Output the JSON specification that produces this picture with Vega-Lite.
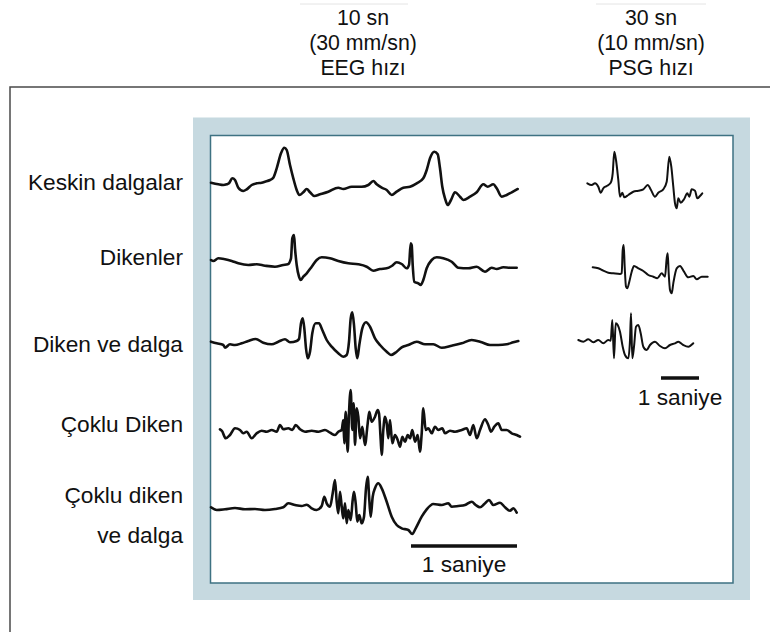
{
  "$schema": "https://vega.github.io/schema/vega-lite/v6.json",
  "width": 770,
  "height": 632,
  "autosize": {"type": "fit", "contains": "padding"},
  "padding": 0,
  "background": "white",
  "view": {"stroke": null},
  "config": {"font": "Liberation Sans", "text": {"font": "Liberation Sans"}},
  "datasets": {
    "traces": [
      {"s":"eeg1","x":211,"y":182.7},{"s":"eeg1","x":218.3,"y":184.3},{"s":"eeg1","x":223.3,"y":185},{"s":"eeg1","x":226.7,"y":184.3},{"s":"eeg1","x":229,"y":183.3},{"s":"eeg1","x":232.3,"y":178.3},{"s":"eeg1","x":235,"y":180},{"s":"eeg1","x":238.3,"y":187.7},{"s":"eeg1","x":243.3,"y":191},{"s":"eeg1","x":246.7,"y":189.3},{"s":"eeg1","x":251.7,"y":185},{"s":"eeg1","x":256.7,"y":183.3},{"s":"eeg1","x":261.7,"y":182.7},{"s":"eeg1","x":265,"y":181.7},{"s":"eeg1","x":270,"y":180},{"s":"eeg1","x":273.3,"y":177.7},{"s":"eeg1","x":276.7,"y":168.3},{"s":"eeg1","x":281,"y":153.3},{"s":"eeg1","x":284.3,"y":147.7},{"s":"eeg1","x":286.7,"y":150},{"s":"eeg1","x":290,"y":165},{"s":"eeg1","x":293.3,"y":178.3},{"s":"eeg1","x":296.7,"y":190},{"s":"eeg1","x":299.3,"y":195},{"s":"eeg1","x":303.3,"y":192.3},{"s":"eeg1","x":306.7,"y":189},{"s":"eeg1","x":310,"y":192.3},{"s":"eeg1","x":314.3,"y":196},{"s":"eeg1","x":320,"y":194.3},{"s":"eeg1","x":328.3,"y":191.7},{"s":"eeg1","x":338.3,"y":187.7},{"s":"eeg1","x":343.3,"y":189},{"s":"eeg1","x":351.7,"y":186.7},{"s":"eeg1","x":361.7,"y":186.7},{"s":"eeg1","x":368.3,"y":185},{"s":"eeg1","x":373.3,"y":181},{"s":"eeg1","x":376.7,"y":184.3},{"s":"eeg1","x":381.7,"y":187.7},{"s":"eeg1","x":386.7,"y":190},{"s":"eeg1","x":391.7,"y":195},{"s":"eeg1","x":396.7,"y":191.7},{"s":"eeg1","x":403.3,"y":187.7},{"s":"eeg1","x":410,"y":186.7},{"s":"eeg1","x":416.7,"y":183.3},{"s":"eeg1","x":423.3,"y":178.3},{"s":"eeg1","x":426.7,"y":170},{"s":"eeg1","x":430,"y":158.3},{"s":"eeg1","x":434.3,"y":151.7},{"s":"eeg1","x":437.7,"y":154.3},{"s":"eeg1","x":440,"y":168.3},{"s":"eeg1","x":442.3,"y":186.7},{"s":"eeg1","x":445,"y":198.3},{"s":"eeg1","x":447.7,"y":205},{"s":"eeg1","x":451,"y":200},{"s":"eeg1","x":455,"y":192.3},{"s":"eeg1","x":460,"y":196.7},{"s":"eeg1","x":463.3,"y":200},{"s":"eeg1","x":470,"y":196.7},{"s":"eeg1","x":476.7,"y":192.3},{"s":"eeg1","x":483.3,"y":184.3},{"s":"eeg1","x":487.7,"y":186.7},{"s":"eeg1","x":493.3,"y":184.3},{"s":"eeg1","x":496.7,"y":188.3},{"s":"eeg1","x":501.7,"y":196.7},{"s":"eeg1","x":506.7,"y":195},{"s":"eeg1","x":511.7,"y":192.3},{"s":"eeg1","x":517.7,"y":189},

      {"s":"eeg2","x":211,"y":260},{"s":"eeg2","x":213.3,"y":261},{"s":"eeg2","x":218.3,"y":258.3},{"s":"eeg2","x":225,"y":259.3},{"s":"eeg2","x":231.7,"y":261},{"s":"eeg2","x":238.3,"y":263.3},{"s":"eeg2","x":248.3,"y":265},{"s":"eeg2","x":256.7,"y":264.3},{"s":"eeg2","x":265,"y":265.7},{"s":"eeg2","x":275,"y":266.7},{"s":"eeg2","x":283.3,"y":265},{"s":"eeg2","x":287.7,"y":264.3},{"s":"eeg2","x":291,"y":258.3},{"s":"eeg2","x":292.3,"y":238.3},{"s":"eeg2","x":294,"y":235},{"s":"eeg2","x":295,"y":248.3},{"s":"eeg2","x":296.7,"y":265},{"s":"eeg2","x":299,"y":276.7},{"s":"eeg2","x":300.7,"y":280},{"s":"eeg2","x":303.3,"y":276.7},{"s":"eeg2","x":306.7,"y":273.3},{"s":"eeg2","x":311.7,"y":266.7},{"s":"eeg2","x":316.7,"y":260},{"s":"eeg2","x":321.7,"y":257.3},{"s":"eeg2","x":330,"y":258.3},{"s":"eeg2","x":338.3,"y":261},{"s":"eeg2","x":348.3,"y":263.3},{"s":"eeg2","x":358.3,"y":264.3},{"s":"eeg2","x":366.7,"y":266.7},{"s":"eeg2","x":373.3,"y":270.7},{"s":"eeg2","x":380,"y":269},{"s":"eeg2","x":386.7,"y":268.3},{"s":"eeg2","x":391.7,"y":266},{"s":"eeg2","x":396.7,"y":262.3},{"s":"eeg2","x":401.7,"y":264},{"s":"eeg2","x":406.7,"y":268.3},{"s":"eeg2","x":409,"y":265},{"s":"eeg2","x":410.7,"y":243.3},{"s":"eeg2","x":411.7,"y":245},{"s":"eeg2","x":412.7,"y":265},{"s":"eeg2","x":414.3,"y":281.7},{"s":"eeg2","x":418.3,"y":283.3},{"s":"eeg2","x":420.7,"y":285},{"s":"eeg2","x":423.3,"y":280},{"s":"eeg2","x":426.7,"y":268.3},{"s":"eeg2","x":431.7,"y":260},{"s":"eeg2","x":436.7,"y":257.3},{"s":"eeg2","x":443.3,"y":258.3},{"s":"eeg2","x":451.7,"y":261.7},{"s":"eeg2","x":458.3,"y":267.7},{"s":"eeg2","x":468.3,"y":268.3},{"s":"eeg2","x":476.7,"y":266.7},{"s":"eeg2","x":485,"y":271.7},{"s":"eeg2","x":491.7,"y":267.7},{"s":"eeg2","x":496.7,"y":269},{"s":"eeg2","x":503.3,"y":267.3},{"s":"eeg2","x":510,"y":267.7},{"s":"eeg2","x":516.7,"y":267.7},

      {"s":"eeg3","x":211,"y":341.7},{"s":"eeg3","x":216.7,"y":343.3},{"s":"eeg3","x":223.3,"y":345},{"s":"eeg3","x":225,"y":347.7},{"s":"eeg3","x":230,"y":344.3},{"s":"eeg3","x":235,"y":345},{"s":"eeg3","x":241.7,"y":343.3},{"s":"eeg3","x":248.3,"y":341},{"s":"eeg3","x":255.7,"y":339},{"s":"eeg3","x":263.3,"y":342.7},{"s":"eeg3","x":271.7,"y":344.3},{"s":"eeg3","x":278.3,"y":341.7},{"s":"eeg3","x":285,"y":339.3},{"s":"eeg3","x":290,"y":342.3},{"s":"eeg3","x":296.7,"y":341},{"s":"eeg3","x":299,"y":339},{"s":"eeg3","x":301,"y":323.3},{"s":"eeg3","x":302.7,"y":318.3},{"s":"eeg3","x":304.3,"y":328.3},{"s":"eeg3","x":306,"y":348.3},{"s":"eeg3","x":307.7,"y":358.3},{"s":"eeg3","x":310,"y":351.7},{"s":"eeg3","x":312.3,"y":333.3},{"s":"eeg3","x":315.7,"y":323.3},{"s":"eeg3","x":319,"y":323.3},{"s":"eeg3","x":322.3,"y":330},{"s":"eeg3","x":326.7,"y":340},{"s":"eeg3","x":331.7,"y":346.7},{"s":"eeg3","x":338.3,"y":353.3},{"s":"eeg3","x":343.3,"y":356.7},{"s":"eeg3","x":346.7,"y":355},{"s":"eeg3","x":349,"y":341.7},{"s":"eeg3","x":350.7,"y":318.3},{"s":"eeg3","x":352.3,"y":312.3},{"s":"eeg3","x":354,"y":325},{"s":"eeg3","x":355.7,"y":348.3},{"s":"eeg3","x":357.3,"y":358.3},{"s":"eeg3","x":359.3,"y":345},{"s":"eeg3","x":362.3,"y":328.3},{"s":"eeg3","x":366,"y":322.3},{"s":"eeg3","x":370,"y":326.7},{"s":"eeg3","x":375,"y":338.3},{"s":"eeg3","x":380,"y":345},{"s":"eeg3","x":386.7,"y":351.7},{"s":"eeg3","x":391,"y":355},{"s":"eeg3","x":396.7,"y":351.7},{"s":"eeg3","x":401.7,"y":347.3},{"s":"eeg3","x":408.3,"y":345},{"s":"eeg3","x":416.7,"y":341.7},{"s":"eeg3","x":425,"y":344.3},{"s":"eeg3","x":433.3,"y":344.3},{"s":"eeg3","x":441.7,"y":347.7},{"s":"eeg3","x":451.7,"y":345.7},{"s":"eeg3","x":461.7,"y":343.3},{"s":"eeg3","x":471.7,"y":340},{"s":"eeg3","x":481.7,"y":342.3},{"s":"eeg3","x":490,"y":345},{"s":"eeg3","x":498.3,"y":345},{"s":"eeg3","x":506.7,"y":344.3},{"s":"eeg3","x":513.3,"y":342.3},{"s":"eeg3","x":518.3,"y":341},

      {"s":"eeg4","x":220,"y":429.3},{"s":"eeg4","x":222,"y":431},{"s":"eeg4","x":225.7,"y":438.3},{"s":"eeg4","x":230,"y":435},{"s":"eeg4","x":235,"y":428.3},{"s":"eeg4","x":240,"y":430},{"s":"eeg4","x":243.3,"y":433.3},{"s":"eeg4","x":246.7,"y":431.7},{"s":"eeg4","x":251.7,"y":438.3},{"s":"eeg4","x":256.7,"y":433.3},{"s":"eeg4","x":261.7,"y":430.7},{"s":"eeg4","x":266.7,"y":431.7},{"s":"eeg4","x":271.7,"y":430},{"s":"eeg4","x":276.7,"y":431.7},{"s":"eeg4","x":280,"y":425},{"s":"eeg4","x":283.3,"y":429.3},{"s":"eeg4","x":288.3,"y":428.3},{"s":"eeg4","x":292.3,"y":430},{"s":"eeg4","x":295.7,"y":425},{"s":"eeg4","x":300,"y":429.3},{"s":"eeg4","x":305,"y":431.7},{"s":"eeg4","x":311.7,"y":430.7},{"s":"eeg4","x":318.3,"y":431.7},{"s":"eeg4","x":325,"y":430},{"s":"eeg4","x":330,"y":432.7},{"s":"eeg4","x":335,"y":435},{"s":"eeg4","x":338.3,"y":431.7},{"s":"eeg4","x":341.7,"y":430},{"s":"eeg4","x":343.3,"y":420},{"s":"eeg4","x":344.3,"y":443.3},{"s":"eeg4","x":345.7,"y":411.7},{"s":"eeg4","x":347.7,"y":451.7},{"s":"eeg4","x":349,"y":413.3},{"s":"eeg4","x":350.7,"y":390},{"s":"eeg4","x":352.3,"y":430},{"s":"eeg4","x":353.7,"y":403.3},{"s":"eeg4","x":355,"y":445},{"s":"eeg4","x":356.7,"y":408.3},{"s":"eeg4","x":358.3,"y":416.7},{"s":"eeg4","x":360,"y":438.3},{"s":"eeg4","x":362.3,"y":426.7},{"s":"eeg4","x":365,"y":445},{"s":"eeg4","x":367.7,"y":423.3},{"s":"eeg4","x":369.3,"y":411.7},{"s":"eeg4","x":371.7,"y":421.7},{"s":"eeg4","x":375,"y":416.7},{"s":"eeg4","x":377.7,"y":410},{"s":"eeg4","x":379,"y":413.3},{"s":"eeg4","x":380.7,"y":440},{"s":"eeg4","x":381.7,"y":455},{"s":"eeg4","x":383.3,"y":430},{"s":"eeg4","x":385,"y":416.7},{"s":"eeg4","x":386.7,"y":423.3},{"s":"eeg4","x":388.3,"y":438.3},{"s":"eeg4","x":390,"y":420},{"s":"eeg4","x":392.3,"y":443.3},{"s":"eeg4","x":395,"y":435},{"s":"eeg4","x":397.7,"y":440},{"s":"eeg4","x":400,"y":446.7},{"s":"eeg4","x":402.3,"y":436.7},{"s":"eeg4","x":405,"y":441.7},{"s":"eeg4","x":407.7,"y":435},{"s":"eeg4","x":410,"y":438.3},{"s":"eeg4","x":412.3,"y":430},{"s":"eeg4","x":415,"y":441.7},{"s":"eeg4","x":417.7,"y":435},{"s":"eeg4","x":420,"y":451.7},{"s":"eeg4","x":421.7,"y":433.3},{"s":"eeg4","x":423.3,"y":408.3},{"s":"eeg4","x":425.7,"y":430},{"s":"eeg4","x":428.3,"y":428.3},{"s":"eeg4","x":431.7,"y":433.3},{"s":"eeg4","x":435,"y":426.7},{"s":"eeg4","x":438.3,"y":430},{"s":"eeg4","x":442.3,"y":428.3},{"s":"eeg4","x":445,"y":433.3},{"s":"eeg4","x":450,"y":430.7},{"s":"eeg4","x":455,"y":431.7},{"s":"eeg4","x":461.7,"y":430},{"s":"eeg4","x":466.7,"y":428.3},{"s":"eeg4","x":470,"y":435},{"s":"eeg4","x":473.3,"y":425},{"s":"eeg4","x":476.7,"y":438.3},{"s":"eeg4","x":480,"y":430},{"s":"eeg4","x":485,"y":419.3},{"s":"eeg4","x":488.3,"y":425},{"s":"eeg4","x":491,"y":431.7},{"s":"eeg4","x":494.3,"y":426.7},{"s":"eeg4","x":498.3,"y":423.3},{"s":"eeg4","x":501.7,"y":430},{"s":"eeg4","x":506.7,"y":430},{"s":"eeg4","x":511.7,"y":433.3},{"s":"eeg4","x":516.7,"y":435},{"s":"eeg4","x":520,"y":436.7},

      {"s":"eeg5","x":211,"y":507.3},{"s":"eeg5","x":216.7,"y":510},{"s":"eeg5","x":225,"y":509.3},{"s":"eeg5","x":235,"y":508},{"s":"eeg5","x":245,"y":509.3},{"s":"eeg5","x":255,"y":509},{"s":"eeg5","x":265,"y":510},{"s":"eeg5","x":275,"y":509},{"s":"eeg5","x":283.3,"y":507.3},{"s":"eeg5","x":288.3,"y":503.3},{"s":"eeg5","x":295,"y":505},{"s":"eeg5","x":301.7,"y":506},{"s":"eeg5","x":306.7,"y":504.7},{"s":"eeg5","x":311.7,"y":508.3},{"s":"eeg5","x":316.7,"y":510},{"s":"eeg5","x":321.7,"y":506},{"s":"eeg5","x":324.3,"y":496.7},{"s":"eeg5","x":326.7,"y":503.3},{"s":"eeg5","x":330,"y":506.7},{"s":"eeg5","x":332.7,"y":493.3},{"s":"eeg5","x":335,"y":480},{"s":"eeg5","x":336.7,"y":501.7},{"s":"eeg5","x":338.3,"y":513.3},{"s":"eeg5","x":340,"y":491.7},{"s":"eeg5","x":341.7,"y":506.7},{"s":"eeg5","x":343.3,"y":518.3},{"s":"eeg5","x":345,"y":503.3},{"s":"eeg5","x":346.7,"y":523.3},{"s":"eeg5","x":348.3,"y":510},{"s":"eeg5","x":350.7,"y":520},{"s":"eeg5","x":352.7,"y":500},{"s":"eeg5","x":354,"y":491.7},{"s":"eeg5","x":355.7,"y":503.3},{"s":"eeg5","x":357.3,"y":521.7},{"s":"eeg5","x":359.3,"y":515},{"s":"eeg5","x":361.7,"y":523.3},{"s":"eeg5","x":364,"y":516.7},{"s":"eeg5","x":366,"y":488.3},{"s":"eeg5","x":367.7,"y":476.7},{"s":"eeg5","x":369.3,"y":500},{"s":"eeg5","x":370.7,"y":516.7},{"s":"eeg5","x":372.7,"y":496.7},{"s":"eeg5","x":375,"y":488.3},{"s":"eeg5","x":378.3,"y":483.3},{"s":"eeg5","x":381.7,"y":488.3},{"s":"eeg5","x":386.7,"y":501.7},{"s":"eeg5","x":391.7,"y":516.7},{"s":"eeg5","x":396.7,"y":525},{"s":"eeg5","x":401.7,"y":528.3},{"s":"eeg5","x":408.3,"y":530},{"s":"eeg5","x":412.3,"y":534},{"s":"eeg5","x":415.7,"y":528.3},{"s":"eeg5","x":421.7,"y":516.7},{"s":"eeg5","x":426.7,"y":509.3},{"s":"eeg5","x":433.3,"y":504},{"s":"eeg5","x":441.7,"y":505},{"s":"eeg5","x":448.3,"y":503.3},{"s":"eeg5","x":451.7,"y":506.7},{"s":"eeg5","x":458.3,"y":506},{"s":"eeg5","x":465,"y":505},{"s":"eeg5","x":471.7,"y":501.7},{"s":"eeg5","x":475.7,"y":505},{"s":"eeg5","x":480,"y":507.3},{"s":"eeg5","x":484.3,"y":504},{"s":"eeg5","x":489,"y":500},{"s":"eeg5","x":493.3,"y":505},{"s":"eeg5","x":500,"y":502.7},{"s":"eeg5","x":505,"y":507.3},{"s":"eeg5","x":510,"y":510.7},{"s":"eeg5","x":513.3,"y":508.3},{"s":"eeg5","x":516.7,"y":512.7},

      {"s":"psg1","x":587.3,"y":183.3},{"s":"psg1","x":591.7,"y":185},{"s":"psg1","x":595,"y":183.3},{"s":"psg1","x":598.3,"y":186.7},{"s":"psg1","x":600.7,"y":192.7},{"s":"psg1","x":603.3,"y":188.3},{"s":"psg1","x":606.7,"y":186},{"s":"psg1","x":610.7,"y":182.7},{"s":"psg1","x":612.7,"y":173.3},{"s":"psg1","x":614.3,"y":151.7},{"s":"psg1","x":616,"y":160},{"s":"psg1","x":618.3,"y":180},{"s":"psg1","x":620,"y":196.7},{"s":"psg1","x":622.3,"y":192.7},{"s":"psg1","x":624.3,"y":197.3},{"s":"psg1","x":628.3,"y":195},{"s":"psg1","x":633.3,"y":191.7},{"s":"psg1","x":638.3,"y":190.7},{"s":"psg1","x":643.3,"y":189.3},{"s":"psg1","x":647.7,"y":185},{"s":"psg1","x":651,"y":190},{"s":"psg1","x":655,"y":196.7},{"s":"psg1","x":658.3,"y":192.7},{"s":"psg1","x":663.3,"y":189.3},{"s":"psg1","x":666.7,"y":181.7},{"s":"psg1","x":669.3,"y":156.7},{"s":"psg1","x":671.3,"y":166.7},{"s":"psg1","x":673.3,"y":186.7},{"s":"psg1","x":675,"y":203.3},{"s":"psg1","x":676.7,"y":208.3},{"s":"psg1","x":678.3,"y":198.3},{"s":"psg1","x":680.7,"y":202.7},{"s":"psg1","x":684,"y":199.3},{"s":"psg1","x":687.3,"y":193.3},{"s":"psg1","x":689.3,"y":196.7},{"s":"psg1","x":691.7,"y":189.3},{"s":"psg1","x":695,"y":190.7},{"s":"psg1","x":697.3,"y":198.3},{"s":"psg1","x":700,"y":196},{"s":"psg1","x":702.3,"y":193.3},

      {"s":"psg2","x":592.7,"y":267.3},{"s":"psg2","x":598.3,"y":268.3},{"s":"psg2","x":603.3,"y":270.7},{"s":"psg2","x":608.3,"y":272.7},{"s":"psg2","x":613.3,"y":273.3},{"s":"psg2","x":620,"y":274},{"s":"psg2","x":621.7,"y":273.3},{"s":"psg2","x":622.7,"y":250},{"s":"psg2","x":623.7,"y":245},{"s":"psg2","x":624.7,"y":266.7},{"s":"psg2","x":626,"y":286.7},{"s":"psg2","x":627.3,"y":288.3},{"s":"psg2","x":629.3,"y":281.7},{"s":"psg2","x":631.7,"y":271.7},{"s":"psg2","x":634,"y":266},{"s":"psg2","x":638.3,"y":268.3},{"s":"psg2","x":643.3,"y":271},{"s":"psg2","x":648.3,"y":275},{"s":"psg2","x":653.3,"y":276.7},{"s":"psg2","x":657.3,"y":278.3},{"s":"psg2","x":661.7,"y":273.3},{"s":"psg2","x":665,"y":276.7},{"s":"psg2","x":666.7,"y":258.3},{"s":"psg2","x":667.7,"y":253.3},{"s":"psg2","x":668.7,"y":273.3},{"s":"psg2","x":670,"y":290},{"s":"psg2","x":671.7,"y":293.3},{"s":"psg2","x":673.3,"y":283.3},{"s":"psg2","x":676.7,"y":268.3},{"s":"psg2","x":680,"y":266},{"s":"psg2","x":684,"y":271.7},{"s":"psg2","x":688.3,"y":277.3},{"s":"psg2","x":693.3,"y":276},{"s":"psg2","x":696.7,"y":279.3},{"s":"psg2","x":701.7,"y":276.7},{"s":"psg2","x":707.7,"y":276.7},

      {"s":"psg3","x":578.3,"y":340},{"s":"psg3","x":583.3,"y":341.7},{"s":"psg3","x":588.3,"y":339.3},{"s":"psg3","x":593.3,"y":342.3},{"s":"psg3","x":598.3,"y":340},{"s":"psg3","x":603.3,"y":343.3},{"s":"psg3","x":608.3,"y":340},{"s":"psg3","x":610.7,"y":340.7},{"s":"psg3","x":612.3,"y":320},{"s":"psg3","x":614,"y":358.3},{"s":"psg3","x":615.7,"y":323.3},{"s":"psg3","x":617.7,"y":325},{"s":"psg3","x":620,"y":331.7},{"s":"psg3","x":622.7,"y":346.7},{"s":"psg3","x":625,"y":355},{"s":"psg3","x":628.3,"y":358.3},{"s":"psg3","x":630,"y":340},{"s":"psg3","x":631,"y":313.3},{"s":"psg3","x":632.3,"y":358.3},{"s":"psg3","x":634,"y":346.7},{"s":"psg3","x":636,"y":326.7},{"s":"psg3","x":638.3,"y":325},{"s":"psg3","x":640.7,"y":333.3},{"s":"psg3","x":643.3,"y":346.7},{"s":"psg3","x":646.7,"y":350},{"s":"psg3","x":650,"y":345},{"s":"psg3","x":655,"y":341.7},{"s":"psg3","x":660,"y":346},{"s":"psg3","x":665,"y":348.3},{"s":"psg3","x":670,"y":345},{"s":"psg3","x":675,"y":343.3},{"s":"psg3","x":678.3,"y":341.7},{"s":"psg3","x":683.3,"y":345},{"s":"psg3","x":688.3,"y":346.7},{"s":"psg3","x":693.3,"y":343.3}
    ],
    "rowLabels": [
      {"x":183,"y":190,"text":"Keskin dalgalar"},
      {"x":183,"y":265,"text":"Dikenler"},
      {"x":183,"y":351.5,"text":"Diken ve dalga"},
      {"x":183,"y":431.5,"text":"Çoklu Diken"},
      {"x":183,"y":502.5,"text":"Çoklu diken"},
      {"x":183,"y":543,"text":"ve dalga"}
    ],
    "headers": [
      {"x":363,"y":25,"text":"10 sn"},
      {"x":363,"y":50,"text":"(30 mm/sn)"},
      {"x":363,"y":75,"text":"EEG hızı"},
      {"x":651,"y":25,"text":"30 sn"},
      {"x":651,"y":50,"text":"(10 mm/sn)"},
      {"x":651,"y":75,"text":"PSG hızı"}
    ],
    "scaleBars": [
      {"x":411,"x2":517,"y":546,"label":"1 saniye","ly":571.5,"lx":464},
      {"x":661,"x2":699,"y":378,"label":"1 saniye","ly":405,"lx":680}
    ]
  },
  "encoding": {
    "x": {"field": "x", "type": "quantitative", "scale": {"domain": [0, 770], "nice": false, "zero": false}, "axis": null},
    "y": {"field": "y", "type": "quantitative", "scale": {"domain": [0, 632], "nice": false, "zero": false, "reverse": true}, "axis": null}
  },
  "layer": [
    {
      "data": {"values": [{"x": 10, "x2": 800, "y": 87, "y2": 660}]},
      "mark": {"type": "rect", "fill": "white", "stroke": "#4a4a4a", "strokeWidth": 1.5, "clip": true},
      "encoding": {"x2": {"field": "x2"}, "y2": {"field": "y2"}}
    },
    {
      "data": {"values": [{"x": 300, "x2": 408, "y": 4}, {"x": 596, "x2": 706, "y": 4}]},
      "mark": {"type": "rule", "color": "#e4e4e4", "strokeWidth": 1},
      "encoding": {"x2": {"field": "x2"}}
    },
    {
      "data": {"values": [{"x": 193, "x2": 750, "y": 117.5, "y2": 600}]},
      "mark": {"type": "rect", "fill": "#c6d9e0"},
      "encoding": {"x2": {"field": "x2"}, "y2": {"field": "y2"}}
    },
    {
      "data": {"values": [{"x": 210.5, "x2": 733, "y": 135.5, "y2": 583}]},
      "mark": {"type": "rect", "fill": "white", "stroke": "#3e7282", "strokeWidth": 1.5},
      "encoding": {"x2": {"field": "x2"}, "y2": {"field": "y2"}}
    },
    {
      "data": {"name": "traces"},
      "transform": [{"filter": "indexof(datum.s, 'eeg') === 0"}],
      "mark": {"type": "line", "color": "#111111", "strokeWidth": 2.6, "strokeJoin": "round", "strokeCap": "round", "interpolate": "monotone"},
      "encoding": {"detail": {"field": "s", "type": "nominal"}}
    },
    {
      "data": {"name": "traces"},
      "transform": [{"filter": "indexof(datum.s, 'psg') === 0"}],
      "mark": {"type": "line", "color": "#111111", "strokeWidth": 2, "strokeJoin": "round", "strokeCap": "round", "interpolate": "monotone"},
      "encoding": {"detail": {"field": "s", "type": "nominal"}}
    },
    {
      "data": {"name": "scaleBars"},
      "mark": {"type": "rule", "color": "#111111", "strokeWidth": 3.5},
      "encoding": {"x2": {"field": "x2"}}
    },
    {
      "data": {"name": "scaleBars"},
      "mark": {"type": "text", "align": "center", "baseline": "alphabetic", "fontSize": 22.7, "color": "#111111"},
      "encoding": {"x": {"field": "lx", "type": "quantitative"}, "y": {"field": "ly", "type": "quantitative"}, "text": {"field": "label"}}
    },
    {
      "data": {"name": "rowLabels"},
      "mark": {"type": "text", "align": "right", "baseline": "alphabetic", "fontSize": 22.7, "color": "#111111"},
      "encoding": {"text": {"field": "text"}}
    },
    {
      "data": {"name": "headers"},
      "mark": {"type": "text", "align": "center", "baseline": "alphabetic", "fontSize": 21.3, "color": "#111111"},
      "encoding": {"text": {"field": "text"}}
    }
  ]
}
